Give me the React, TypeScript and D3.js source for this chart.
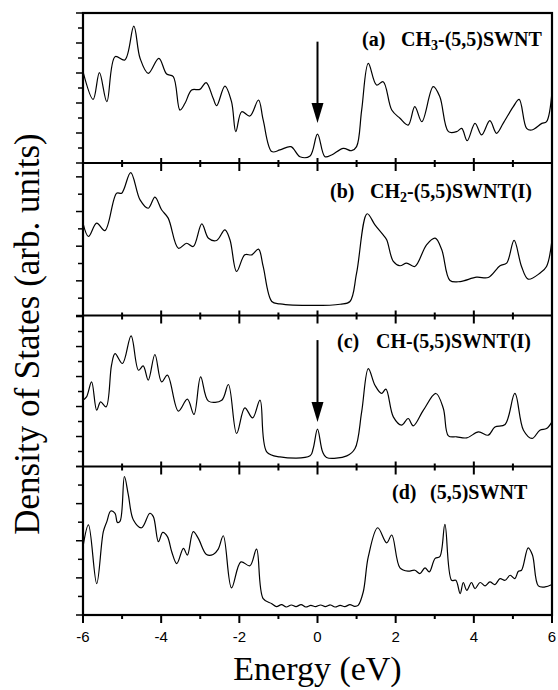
import * as d3 from "d3";

// energy (eV) and DOS (arb. units), one pair per panel
const energyA = [-6.0, -5.74, -5.58, -5.39, -5.18, -4.93, -4.7, -4.54, -4.33, -4.06, -3.86, -3.69, -3.52, -3.39, -3.22, -3.01, -2.85, -2.67, -2.58, -2.37, -2.2, -2.09, -1.94, -1.73, -1.51, -1.39, -1.17, -0.96, -0.68, -0.45, -0.19, 0.0, 0.19, 0.36, 0.66, 0.87, 1.0, 1.13, 1.3, 1.51, 1.68, 1.9, 2.11, 2.32, 2.49, 2.67, 2.96, 3.13, 3.35, 3.56, 3.69, 3.83, 4.03, 4.2, 4.41, 4.58, 4.75, 5.01, 5.16, 5.35, 5.48, 5.74, 5.86, 6.0];
const dosA = [6.09, 4.24, 6.02, 4.09, 7.09, 6.87, 9.13, 6.98, 5.98, 6.98, 5.93, 5.76, 3.53, 3.98, 4.87, 4.91, 5.36, 4.31, 3.82, 5.13, 4.09, 2.09, 3.42, 3.13, 4.2, 2.87, 0.76, 0.87, 1.09, 0.42, 0.47, 1.93, 0.42, 0.53, 0.98, 0.82, 1.09, 3.53, 6.64, 5.2, 5.42, 3.53, 2.98, 2.53, 3.76, 2.76, 5.09, 4.42, 2.09, 2.09, 2.31, 1.49, 2.64, 1.87, 2.82, 1.98, 2.64, 3.76, 4.24, 2.31, 2.2, 2.64, 2.76, 4.76];

const energyB = [-6.0, -5.86, -5.65, -5.44, -5.14, -5.01, -4.78, -4.54, -4.33, -4.16, -3.99, -3.82, -3.56, -3.35, -3.18, -2.96, -2.79, -2.58, -2.37, -2.24, -2.07, -1.86, -1.68, -1.51, -1.39, -1.17, -0.96, -0.11, 0.58, 0.83, 1.0, 1.27, 1.47, 1.68, 1.77, 1.94, 2.11, 2.28, 2.49, 2.79, 3.01, 3.18, 3.39, 3.65, 4.07, 4.37, 4.67, 4.84, 5.03, 5.22, 5.39, 5.69, 5.86, 6.0];
const dosB = [5.33, 4.56, 5.33, 4.9, 7.06, 7.06, 8.25, 6.67, 6.19, 6.83, 6.1, 5.62, 3.88, 4.17, 3.98, 5.29, 4.46, 4.33, 4.94, 4.37, 2.54, 3.5, 3.5, 3.83, 2.83, 0.81, 0.67, 0.58, 0.65, 0.81, 2.44, 5.87, 5.23, 4.65, 4.37, 3.12, 2.87, 3.02, 2.83, 4.08, 4.46, 3.79, 2.02, 1.96, 2.21, 2.19, 2.87, 3.02, 4.33, 2.83, 2.1, 2.44, 2.83, 4.37];

const energyC = [-6.0, -5.91, -5.78, -5.65, -5.55, -5.41, -5.27, -5.18, -4.99, -4.77, -4.58, -4.46, -4.33, -4.16, -3.99, -3.84, -3.56, -3.33, -3.16, -2.99, -2.79, -2.45, -2.28, -2.07, -1.86, -1.66, -1.47, -1.3, -0.96, -0.19, -0.11, 0.0, 0.13, 0.23, 0.75, 0.96, 1.13, 1.3, 1.47, 1.64, 1.75, 1.94, 2.15, 2.32, 2.45, 2.71, 3.03, 3.22, 3.35, 3.56, 3.82, 4.12, 4.37, 4.54, 4.8, 5.05, 5.27, 5.49, 5.69, 5.86, 6.0];
const dosC = [4.42, 4.64, 5.64, 3.76, 4.31, 3.98, 6.76, 7.53, 6.87, 8.71, 6.42, 6.71, 5.76, 7.47, 5.64, 6.09, 3.69, 4.49, 3.47, 5.98, 4.36, 4.42, 5.47, 2.2, 3.91, 3.24, 4.42, 0.98, 0.64, 0.71, 1.2, 2.49, 0.98, 0.6, 0.71, 1.2, 3.64, 6.53, 5.42, 4.87, 5.16, 3.31, 2.76, 3.2, 2.71, 3.76, 4.87, 3.87, 2.04, 1.98, 1.91, 2.31, 2.09, 2.64, 2.8, 4.87, 2.42, 1.87, 2.42, 2.53, 2.98];

const energyD = [-6.0, -5.86, -5.65, -5.48, -5.39, -5.29, -5.18, -5.12, -5.05, -4.94, -4.84, -4.71, -4.5, -4.29, -4.2, -4.07, -3.96, -3.84, -3.73, -3.6, -3.43, -3.33, -3.18, -3.05, -2.84, -2.67, -2.54, -2.41, -2.2, -1.96, -1.73, -1.56, -1.39, -1.17, -1.05, -0.92, -0.8, -0.67, -0.55, -0.42, -0.3, -0.17, -0.05, 0.08, 0.2, 0.33, 0.45, 0.58, 0.7, 0.83, 0.95, 1.04, 1.17, 1.3, 1.54, 1.77, 1.9, 2.11, 2.32, 2.49, 2.62, 2.75, 2.86, 3.01, 3.13, 3.26, 3.43, 3.54, 3.65, 3.73, 3.82, 3.94, 4.03, 4.16, 4.29, 4.41, 4.54, 4.67, 4.8, 4.93, 5.05, 5.14, 5.22, 5.39, 5.5, 5.65, 5.82, 6.0];
const dosD = [3.68, 4.85, 1.69, 4.49, 5.03, 5.6, 5.48, 4.99, 5.06, 7.46, 6.47, 5.12, 4.7, 5.48, 5.3, 3.95, 4.45, 4.22, 3.41, 2.77, 3.59, 3.23, 4.49, 4.13, 3.26, 3.26, 3.55, 4.27, 1.46, 2.86, 2.65, 3.55, 0.88, 0.61, 0.45, 0.56, 0.43, 0.54, 0.45, 0.56, 0.43, 0.52, 0.45, 0.54, 0.45, 0.54, 0.43, 0.52, 0.45, 0.56, 0.47, 0.52, 1.24, 3.14, 4.7, 3.89, 4.31, 2.54, 2.36, 2.41, 2.23, 2.54, 2.32, 3.05, 3.14, 4.88, 1.87, 1.87, 1.15, 1.75, 1.33, 1.75, 1.42, 1.75, 1.57, 1.78, 1.64, 1.96, 1.87, 2.14, 1.96, 2.36, 2.41, 3.62, 3.23, 1.57, 1.51, 1.64];

const xTicks = [-6, -5, -4, -3, -2, -1, 0, 1, 2, 3, 4, 5, 6];
const xTickLabels = [-6, -4, -2, 0, 2, 4, 6];

const W = 558;
const H = 690;
const LEFT = 83;
const RIGHT = 552;
const SERIF = "Liberation Serif, Times New Roman, DejaVu Serif, serif";
const SANS = "Liberation Sans, Arial, sans-serif";

const panels = [
  { tag: "(a)", name: "CH", sub: "3", rest: "-(5,5)SWNT", energy: energyA, dos: dosA, top: 13, bottom: 163, ymax: 10, arrow: [8.09, 2.67], lx: 362, nx: 401, ly: 33 },
  { tag: "(b)", name: "CH", sub: "2", rest: "-(5,5)SWNT(I)", energy: energyB, dos: dosB, top: 163, bottom: 315.5, ymax: 8.8, arrow: null, lx: 330, nx: 370, ly: 35 },
  { tag: "(c)", name: "CH-(5,5)SWNT(I)", sub: "", rest: "", energy: energyC, dos: dosC, top: 315.5, bottom: 466.5, ymax: 10.07, arrow: [8.43, 2.97], lx: 337, nx: 376, ly: 32 },
  { tag: "(d)", name: "(5,5)SWNT", sub: "", rest: "", energy: energyD, dos: dosD, top: 466.5, bottom: 615, ymax: 8, arrow: null, lx: 392, nx: 430, ly: 32 },
];

const Panel = ({ p, x, last }) => {
  const y = d3.scaleLinear().domain([0, p.ymax]).range([p.bottom, p.top]);
  const pts = p.energy.map((e, i) => [e, p.dos[i]]);
  const line = d3
    .line()
    .x((d) => x(d[0]))
    .y((d) => y(d[1]))
    .curve(d3.curveCatmullRom.alpha(0.5));
  const yTicks = d3.range(0, Math.floor(p.ymax) + 1);

  return (
    <g>
      <path d={line(pts)} fill="none" stroke="#000" strokeWidth={1.2} />
      {/* left ticks, pointing out */}
      {yTicks.map((t) => (
        <line key={"y" + t} x1={LEFT - (t % 2 === 0 ? 7 : 5)} x2={LEFT} y1={y(t)} y2={y(t)} stroke="#000" strokeWidth={1.5} />
      ))}
      {/* bottom ticks */}
      {xTicks.map((t) => {
        const major = t % 2 === 0;
        const up = last ? 0 : major ? 5 : 3;
        const down = major ? 8 : 4;
        return <line key={"x" + t} x1={x(t)} x2={x(t)} y1={p.bottom - up} y2={p.bottom + down} stroke="#000" strokeWidth={2} />;
      })}
      <line x1={LEFT} x2={RIGHT} y1={p.bottom} y2={p.bottom} stroke="#000" strokeWidth={2.2} />
      {p.arrow && (
        <g>
          <line x1={x(0)} x2={x(0)} y1={y(p.arrow[0])} y2={y(p.arrow[1]) - 14} stroke="#000" strokeWidth={2} />
          <path
            d={`M${x(0) - 6},${y(p.arrow[1]) - 20} L${x(0) + 6},${y(p.arrow[1]) - 20} L${x(0)},${y(p.arrow[1])} Z`}
            fill="#000"
          />
        </g>
      )}
      <text y={p.top + p.ly} style={{ fontFamily: SERIF, fontWeight: "bold", fontSize: 20 }}>
        <tspan x={p.lx}>{p.tag}</tspan>
        <tspan x={p.nx}>{p.name}</tspan>
        {p.sub && (
          <tspan style={{ fontSize: 14 }} dy={4}>
            {p.sub}
          </tspan>
        )}
        {p.rest && <tspan dy={p.sub ? -4 : 0}>{p.rest}</tspan>}
      </text>
    </g>
  );
};

export default function App() {
  const x = d3.scaleLinear().domain([-6, 6]).range([LEFT, RIGHT]);
  const top = panels[0].top;
  const bottom = panels[panels.length - 1].bottom;

  return (
    <svg width={W} height={H} style={{ position: "absolute", left: 0, top: 0, background: "#fff" }}>
      <rect x={0} y={0} width={W} height={H} fill="#fff" />
      {panels.map((p, i) => (
        <Panel key={p.tag} p={p} x={x} last={i === panels.length - 1} />
      ))}
      <rect x={LEFT} y={top} width={RIGHT - LEFT} height={bottom - top} fill="none" stroke="#000" strokeWidth={2.2} />
      {xTickLabels.map((t) => (
        <text key={t} x={x(t)} y={642} textAnchor="middle" style={{ fontFamily: SANS, fontSize: 15 }}>
          {t}
        </text>
      ))}
      <text x={x(0)} y={680} textAnchor="middle" style={{ fontFamily: SERIF, fontSize: 34 }}>
        Energy (eV)
      </text>
      <text
        transform={`translate(39, ${(top + bottom) / 2 + 20}) rotate(-90)`}
        textAnchor="middle"
        style={{ fontFamily: SERIF, fontSize: 35 }}
      >
        Density of States (arb. units)
      </text>
    </svg>
  );
}
